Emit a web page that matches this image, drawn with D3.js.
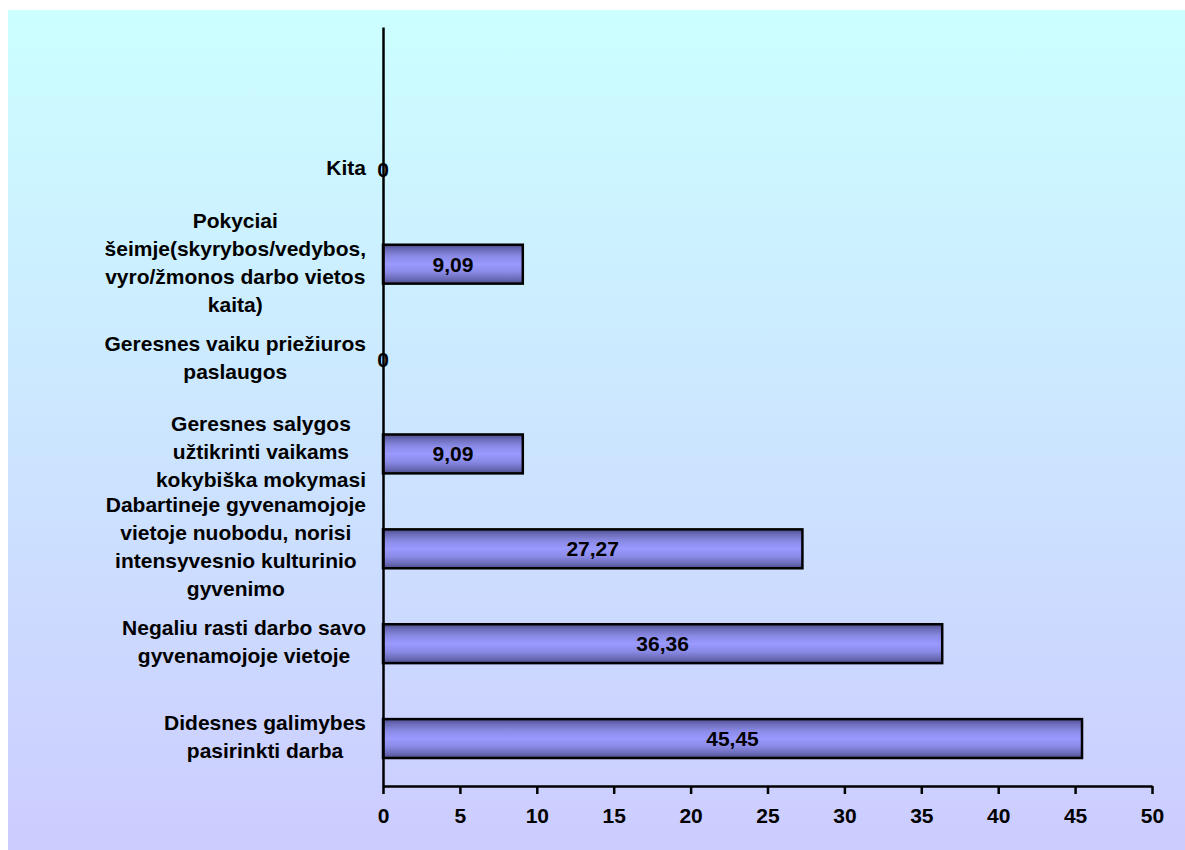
<!DOCTYPE html>
<html>
<head>
<meta charset="utf-8">
<script src="https://cdn.jsdelivr.net/npm/d3@7"></script>
<style>
  html, body { margin: 0; padding: 0; background: #ffffff; }
  svg { display: block; }
  text { font-family: "Liberation Sans", Arial, sans-serif; font-weight: bold; fill: #000; }
</style>
</head>
<body>
<svg id="chart" width="1185" height="850"></svg>
<script>
// categories, bottom to top (as in the picture)
const categories = [
  "Didesnes galimybes\npasirinkti darba",
  "Negaliu rasti darbo savo\ngyvenamojoje vietoje",
  "Dabartineje gyvenamojoje\nvietoje nuobodu, norisi\nintensyvesnio kulturinio\ngyvenimo",
  "Geresnes salygos\nužtikrinti vaikams\nkokybiška mokymasi",
  "Geresnes vaiku priežiuros\npaslaugos",
  "Pokyciai\nšeimje(skyrybos/vedybos,\nvyro/žmonos darbo vietos\nkaita)",
  "Kita",
  ""
];
const values = [45.45, 36.36, 27.27, 9.09, 0, 9.09, 0, null];
const xTicks = [0, 5, 10, 15, 20, 25, 30, 35, 40, 45, 50];

const svg = d3.select("#chart");
const W = 1185, H = 850;

const defs = svg.append("defs");
const bg = defs.append("linearGradient").attr("id", "bgGrad")
  .attr("x1", 0).attr("y1", 0).attr("x2", 0).attr("y2", 1);
bg.append("stop").attr("offset", "0%").attr("stop-color", "#ccffff");
bg.append("stop").attr("offset", "100%").attr("stop-color", "#ccccff");

const bar = defs.append("linearGradient").attr("id", "barGrad")
  .attr("x1", 0).attr("y1", 0).attr("x2", 0).attr("y2", 1);
[["0%", "#4d4d8c"], ["12%", "#6b6bb8"], ["30%", "#8a8ae6"], ["50%", "#9999ff"],
 ["70%", "#8a8ae6"], ["88%", "#6b6bb8"], ["100%", "#4d4d8c"]].forEach(([o, c]) =>
  bar.append("stop").attr("offset", o).attr("stop-color", c));

svg.append("rect").attr("x", 8).attr("y", 10).attr("width", W - 8).attr("height", H - 10)
  .attr("fill", "url(#bgGrad)");

const x0 = 383, x1 = 1152, yBottom = 786, yTop = 27;
const FS = 21;
const x = d3.scaleLinear().domain([0, 50]).range([x0, x1]);
const y = d3.scaleBand().domain(categories).range([yBottom, yTop]).paddingInner(0.59).paddingOuter(0.295);

const data = categories.map((c, i) => ({ c, v: values[i] })).filter(d => d.v !== null);

// bars
svg.append("g").selectAll("rect").data(data.filter(d => d.v > 0)).join("rect")
  .attr("x", x(0))
  .attr("y", d => y(d.c))
  .attr("width", d => x(d.v) - x(0))
  .attr("height", y.bandwidth())
  .attr("fill", "url(#barGrad)")
  .attr("stroke", "#000")
  .attr("stroke-width", 2.5);

// x axis
const xAxis = svg.append("g").attr("transform", `translate(0,${yBottom})`)
  .call(d3.axisBottom(x).tickValues(xTicks).tickSize(8).tickSizeOuter(0).tickPadding(14));
xAxis.attr("font-size", FS).attr("font-family", null);
xAxis.select(".domain").attr("stroke", "#000").attr("stroke-width", 2.5);
xAxis.selectAll(".tick line").attr("stroke", "#000").attr("stroke-width", 2.5);
xAxis.selectAll(".tick text").attr("font-size", FS).attr("fill", "#000");

// y axis
const yAxis = svg.append("g").attr("transform", `translate(${x0},0)`)
  .call(d3.axisLeft(y).tickSize(0).tickFormat(""));
yAxis.select(".domain").attr("stroke", "#000").attr("stroke-width", 2.5);

// category labels: block right-aligned, lines centred within block
const labelRight = 366, lh = 28;
const lg = svg.append("g");
data.forEach(d => {
  const lines = d.c.split("\n");
  const g = lg.append("g");
  const t = g.selectAll("text").data(lines).join("text")
    .attr("font-size", FS)
    .attr("text-anchor", "middle")
    .attr("dominant-baseline", "central")
    .attr("y", (l, i) => y(d.c) + y.bandwidth() / 2 - 2 + (i - (lines.length - 1) / 2) * lh)
    .text(l => l);
  let maxW = 0;
  t.each(function () { maxW = Math.max(maxW, this.getComputedTextLength()); });
  t.attr("x", labelRight - maxW / 2);
});

// value labels
const fmt = d3.formatLocale({ decimal: ",", thousands: " ", grouping: [3], currency: ["", ""] }).format(".2~f");
svg.append("g").selectAll("text").data(data).join("text")
  .attr("font-size", FS)
  .attr("text-anchor", "middle")
  .attr("dominant-baseline", "central")
  .attr("x", d => (x(0) + x(d.v)) / 2)
  .attr("y", d => y(d.c) + y.bandwidth() / 2)
  .text(d => fmt(d.v));
</script>
</body>
</html>
